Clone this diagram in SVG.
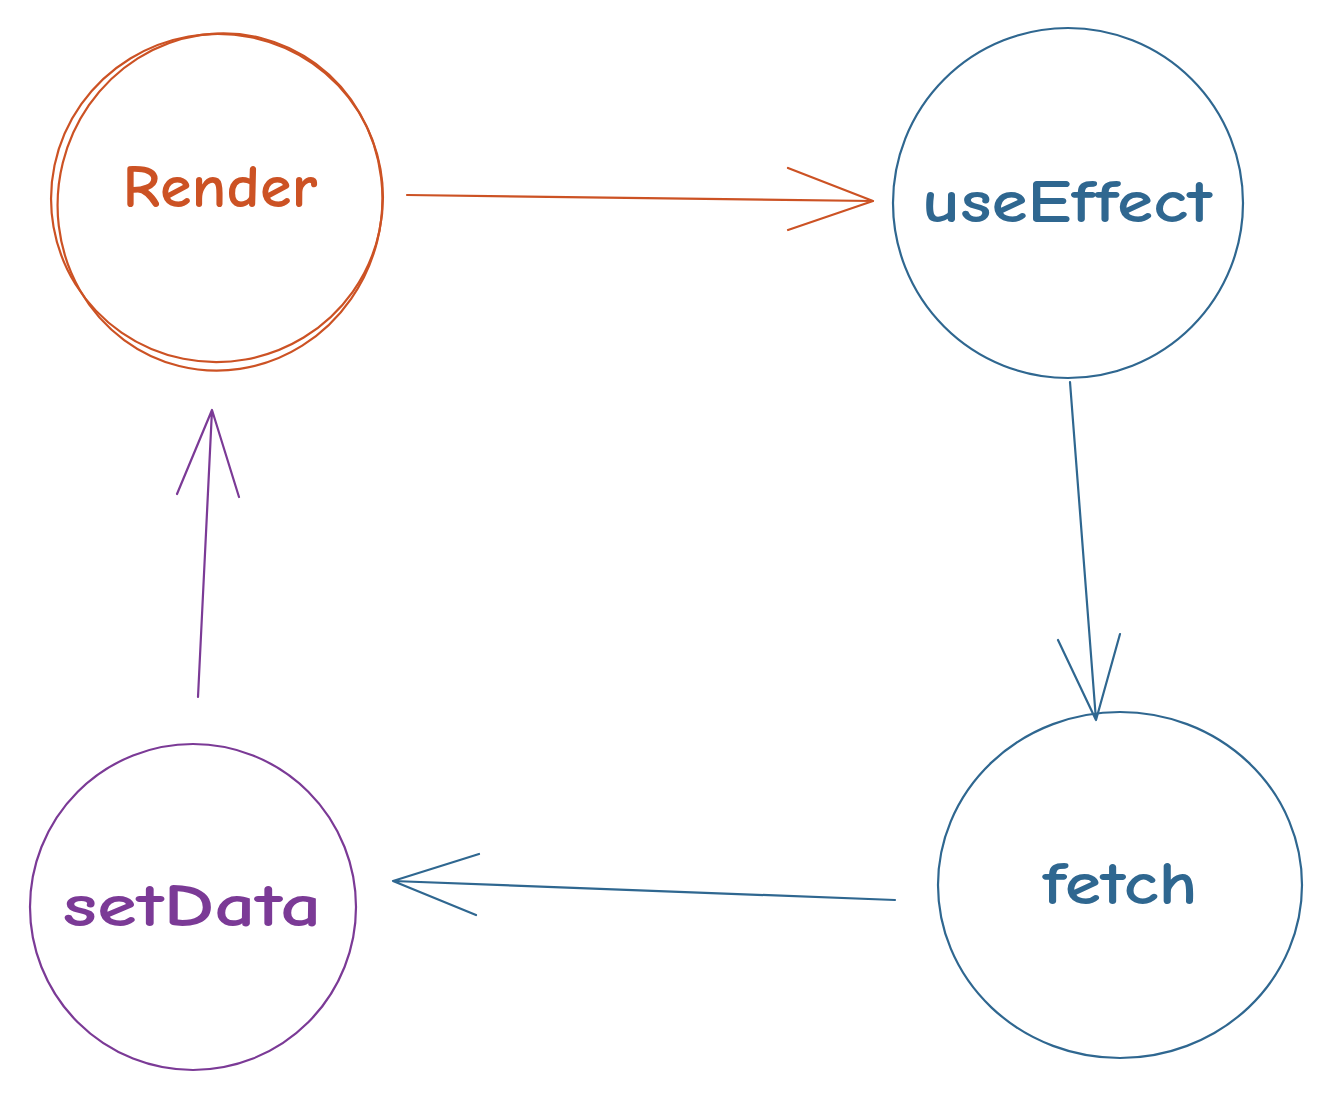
<svg xmlns="http://www.w3.org/2000/svg" width="1333" height="1101" viewBox="0 0 1333 1101">
<style>
.o{stroke:#cc5224}
.b{stroke:#2f6790}
.p{stroke:#7b3a96}
.n{fill:none;stroke-width:2.2;stroke-linecap:round;stroke-linejoin:round}
.t{font-family:"Comic Neue","Liberation Sans",sans-serif;font-size:60px;font-weight:bold;text-anchor:middle;stroke:none}
</style>
<rect width="1333" height="1101" fill="#ffffff"/>
<g id="render">
<ellipse class="n o" cx="217" cy="198" rx="166" ry="164" transform="rotate(-10 217 198)"/>
<ellipse class="n o" cx="220" cy="202" rx="162" ry="169" transform="rotate(14 220 202)"/>
<text class="t" x="220" y="207" fill="#cc5224" textLength="195" lengthAdjust="spacingAndGlyphs">Render</text>
</g>
<g id="useEffect">
<ellipse class="n b" cx="1068" cy="203" rx="175" ry="175"/>
<text class="t" x="1067" y="222" fill="#2f6790" textLength="290" lengthAdjust="spacingAndGlyphs">useEffect</text>
</g>
<g id="fetch">
<ellipse class="n b" cx="1120" cy="885" rx="182" ry="173"/>
<text class="t" x="1120" y="904" fill="#2f6790" textLength="155" lengthAdjust="spacingAndGlyphs">fetch</text>
</g>
<g id="setData">
<ellipse class="n p" cx="193" cy="907" rx="163" ry="163"/>
<text class="t" x="192" y="926" fill="#7b3a96" textLength="259" lengthAdjust="spacingAndGlyphs">setData</text>
</g>
<g id="connectors">
<path class="n o" d="M407 195 L873 201 M788 168 L873 201 L788 230"/>
<path class="n b" d="M1070 382 L1096 720 M1058 640 L1096 720 L1120 634"/>
<path class="n b" d="M895 900 L393 881 M479 854 L393 881 L476 915"/>
<path class="n p" d="M198 697 L212 410 M177 494 L212 410 L239 497"/>
</g>
</svg>
